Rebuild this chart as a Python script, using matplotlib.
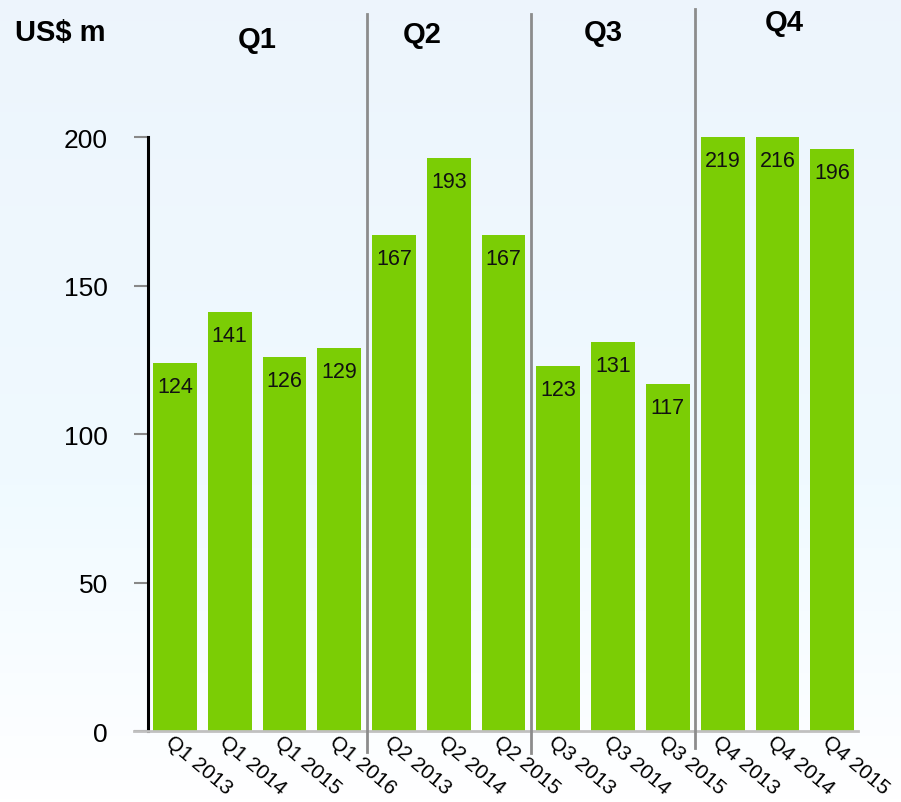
import numpy as np
import matplotlib
matplotlib.use('Agg')
import matplotlib.pyplot as plt
import matplotlib.transforms as mtransforms

plt.rcParams['font.family'] = ['Liberation Sans', 'DejaVu Sans']

# data
labels = ['Q1 2013', 'Q1 2014', 'Q1 2015', 'Q1 2016',
          'Q2 2013', 'Q2 2014', 'Q2 2015',
          'Q3 2013', 'Q3 2014', 'Q3 2015',
          'Q4 2013', 'Q4 2014', 'Q4 2015']
values = [124, 141, 126, 129, 167, 193, 167, 123, 131, 117, 219, 216, 196]
groups = ['Q1', 'Q2', 'Q3', 'Q4']
group_sizes = [4, 3, 3, 3]
yticks = [0, 50, 100, 150, 200]
ymax = 200

fig = plt.figure(figsize=(9.01, 8.03), dpi=100)

# background gradient
bg = fig.add_axes([0, 0, 1, 1], zorder=-10)
grad = np.linspace(0, 1, 256).reshape(-1, 1)
cols = np.array([[0.93, 0.96, 0.99], [0.94, 0.98, 1.0], [1.0, 1.0, 1.0]])
img = np.zeros((256, 1, 3))
for c in range(3):
    img[:, 0, c] = np.interp(grad[:, 0], [0, 0.6, 1.0], cols[:, c])
bg.imshow(img, aspect='auto', extent=[0, 1, 0, 1])
bg.axis('off')

ax = fig.add_axes([0.1643, 0.0884, 0.788, 0.7397])
ax.patch.set_alpha(0)

x = np.arange(len(values))
ax.bar(x, values, width=0.8, color='#7bcd05', zorder=2)
ax.set_ylim(0, ymax)
ax.set_xlim(-0.49, 12.47)

for xi, v in zip(x, values):
    ax.annotate(str(v), (xi, min(v, ymax)), xytext=(0, -17), textcoords='offset points',
                ha='center', va='center', fontsize=15.5, color='#111111')

ax.set_yticks(yticks)
ax.tick_params(axis='y', direction='out', length=10, width=1.5, color='#888888',
               labelsize=19, pad=19)
ax.set_xticks([])
for s in ['top', 'right']:
    ax.spines[s].set_visible(False)
ax.spines['left'].set_color('black')
ax.spines['left'].set_linewidth(2.2)
ax.spines['bottom'].set_color('#c0c0c0')
ax.spines['bottom'].set_linewidth(2)
ax.spines['bottom'].set_bounds(-0.75, 12.47)

# rotated x labels
for xi, lab in zip(x, labels):
    ax.text(xi - 0.02, -0.3, lab, rotation=-40, rotation_mode='anchor',
            ha='left', va='top', fontsize=15, clip_on=False)

# group separators
trans = mtransforms.blended_transform_factory(ax.transData, ax.transAxes)
bounds = np.cumsum(group_sizes)[:-1] - 0.5
tops = [1.207, 1.207, 1.215]
bots = [-0.035, -0.037, -0.029]
for b, t, bo in zip(bounds, tops, bots):
    ax.plot([b, b], [bo, t], transform=trans, color='#8c8c8c', lw=2, clip_on=False, zorder=3)

# group titles
title_x = [1.51, 4.52, 7.82, 11.12]
title_y = [1.165, 1.173, 1.177, 1.194]
for g, tx, ty in zip(groups, title_x, title_y):
    ax.text(tx, ty, g, transform=trans, ha='center', va='center',
            fontsize=21, fontweight='bold')

fig.text(15 / 901, 1 - 33 / 803, 'US$ m', ha='left', va='center',
         fontsize=21, fontweight='bold')

fig.savefig('out.png', dpi=100)
